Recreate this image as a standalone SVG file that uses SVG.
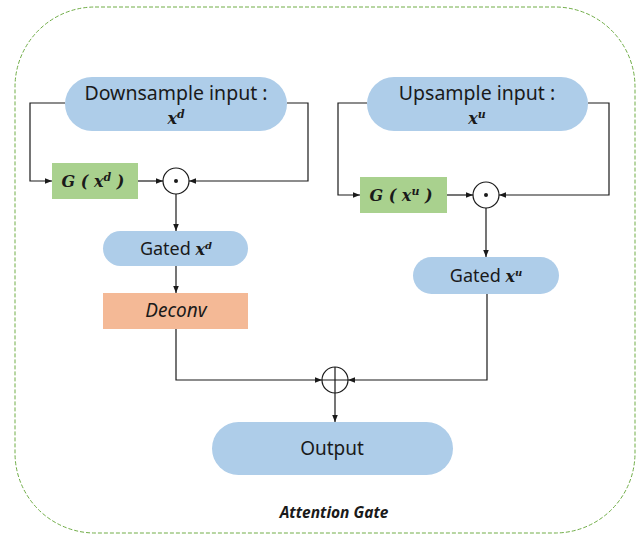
<svg xmlns="http://www.w3.org/2000/svg" width="644" height="538" viewBox="0 0 644 538">
<style>
.pill{fill:#AECDE9;}
.g{fill:#A9D18E;}
.dc{fill:#F4B996;}
.t{font-family:"Noto Sans","Open Sans",sans-serif;fill:#1a1a1a;text-anchor:middle;}
.m{font-family:"DejaVu Serif","Liberation Serif",serif;font-style:italic;font-weight:bold;fill:#1a1a1a;}
.ln{fill:none;stroke:#1a1a1a;stroke-width:1.2;}
.op{fill:#fff;stroke:#1a1a1a;stroke-width:1.2;}
</style>
<defs>
<marker id="a" viewBox="0 0 10 10" refX="10" refY="5" markerWidth="7" markerHeight="7" orient="auto" markerUnits="userSpaceOnUse">
<path d="M0,1 L10,5 L0,9 z" fill="#1a1a1a"/>
</marker>
</defs>
<rect x="15" y="7" width="620" height="526" rx="80" fill="none" stroke="#70AD47" stroke-width="1" stroke-dasharray="4,2"/>

<g id="connectors">
<path class="ln" d="M65,103 H30 V181 H52" marker-end="url(#a)"/>
<path class="ln" d="M138,181 H163" marker-end="url(#a)"/>
<path class="ln" d="M287,103 H308 V181 H189" marker-end="url(#a)"/>
<path class="ln" d="M176,194 V231" marker-end="url(#a)"/>
<path class="ln" d="M176,266 V293" marker-end="url(#a)"/>
<path class="ln" d="M367,103 H338 V195 H360" marker-end="url(#a)"/>
<path class="ln" d="M447,195 H473" marker-end="url(#a)"/>
<path class="ln" d="M588,103 H609 V195 H499" marker-end="url(#a)"/>
<path class="ln" d="M486,208 V257" marker-end="url(#a)"/>
<path class="ln" d="M176,329 V380 H322" marker-end="url(#a)"/>
<path class="ln" d="M487,294 V380 H348" marker-end="url(#a)"/>
<path class="ln" d="M335,393 V422" marker-end="url(#a)"/>
</g>

<g id="downsample">
<rect class="pill" x="65" y="77" width="222" height="54" rx="27"/>
<text class="t" x="176" y="100" font-size="19.5">Downsample input :</text>
<text class="m" x="176" y="124" font-size="16" text-anchor="middle">x<tspan font-size="11" dy="-6">d</tspan></text>
</g>
<g id="gxd">
<rect class="g" x="52" y="163" width="86" height="36"/>
<text class="m" x="93" y="187" font-size="16" text-anchor="middle">G ( x<tspan font-size="11" dy="-6">d</tspan><tspan dy="6"> )</tspan></text>
</g>
<g id="mult-d">
<circle class="op" cx="176" cy="181" r="13"/>
<circle cx="176" cy="181" r="2" fill="#1a1a1a"/>
</g>
<g id="gated-d">
<rect class="pill" x="103" y="231" width="145" height="35" rx="17.5"/>
<text class="t" x="176" y="255" font-size="18">Gated <tspan class="m" font-size="16">x</tspan><tspan class="m" font-size="10" dy="-6">d</tspan></text>
</g>
<g id="deconv">
<rect class="dc" x="103" y="293" width="145" height="36"/>
<text class="t" x="176" y="317" font-size="19" font-style="italic">Deconv</text>
</g>

<g id="upsample">
<rect class="pill" x="367" y="77" width="221" height="54" rx="27"/>
<text class="t" x="477" y="100" font-size="19.5">Upsample input :</text>
<text class="m" x="477" y="124" font-size="16" text-anchor="middle">x<tspan font-size="11" dy="-6">u</tspan></text>
</g>
<g id="gxu">
<rect class="g" x="360" y="177" width="87" height="36"/>
<text class="m" x="401" y="201" font-size="16" text-anchor="middle">G ( x<tspan font-size="11" dy="-6">u</tspan><tspan dy="6"> )</tspan></text>
</g>
<g id="mult-u">
<circle class="op" cx="486" cy="195" r="13"/>
<circle cx="486" cy="195" r="2" fill="#1a1a1a"/>
</g>
<g id="gated-u">
<rect class="pill" x="413" y="257" width="146" height="37" rx="18.5"/>
<text class="t" x="486" y="282" font-size="18">Gated <tspan class="m" font-size="16">x</tspan><tspan class="m" font-size="10" dy="-6">u</tspan></text>
</g>

<g id="add">
<circle class="op" cx="335" cy="380" r="13"/>
<path class="ln" d="M322,380 H348 M335,367 V393"/>
</g>
<g id="output">
<rect class="pill" x="212" y="422" width="241" height="53" rx="26.5"/>
<text class="t" x="332" y="455" font-size="19">Output</text>
</g>
<text class="t" x="334" y="518" font-size="15.5" font-weight="bold" font-style="italic">Attention Gate</text>
</svg>
